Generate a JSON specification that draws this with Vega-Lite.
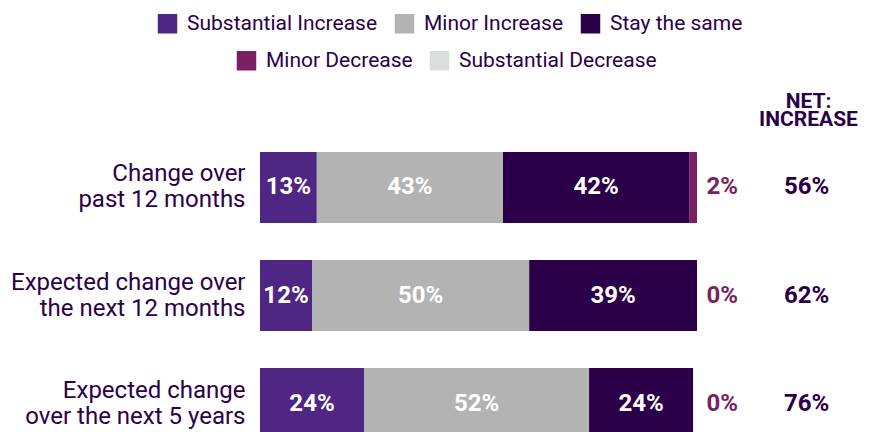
{
  "$schema": "https://vega.github.io/schema/vega-lite/v6.json",
  "autosize": "none",
  "width": 616,
  "height": 287,
  "padding": {"left": 260, "top": 152, "right": 0, "bottom": -7},
  "background": "white",
  "config": {
    "font": "Roboto",
    "view": {"stroke": null},
    "legend": {"padding": 0}
  },
  "data": {
    "values": [
      {"row": "Change over|past 12 months", "cat": "Substantial Increase", "value": 13.0, "label": "13%"},
      {"row": "Change over|past 12 months", "cat": "Minor Increase", "value": 42.6, "label": "43%"},
      {"row": "Change over|past 12 months", "cat": "Stay the same", "value": 42.6, "label": "42%"},
      {"row": "Change over|past 12 months", "cat": "Minor Decrease", "value": 1.8, "label": "2%"},
      {"row": "Change over|past 12 months", "cat": "Substantial Decrease", "value": 0, "label": "0%"},
      {"row": "Expected change over|the next 12 months", "cat": "Substantial Increase", "value": 11.9, "label": "12%"},
      {"row": "Expected change over|the next 12 months", "cat": "Minor Increase", "value": 49.7, "label": "50%"},
      {"row": "Expected change over|the next 12 months", "cat": "Stay the same", "value": 38.4, "label": "39%"},
      {"row": "Expected change over|the next 12 months", "cat": "Minor Decrease", "value": 0, "label": "0%"},
      {"row": "Expected change over|the next 12 months", "cat": "Substantial Decrease", "value": 0, "label": "0%"},
      {"row": "Expected change|over the next 5 years", "cat": "Substantial Increase", "value": 23.8, "label": "24%"},
      {"row": "Expected change|over the next 5 years", "cat": "Minor Increase", "value": 51.5, "label": "52%"},
      {"row": "Expected change|over the next 5 years", "cat": "Stay the same", "value": 23.8, "label": "24%"},
      {"row": "Expected change|over the next 5 years", "cat": "Minor Decrease", "value": 0, "label": "0%"},
      {"row": "Expected change|over the next 5 years", "cat": "Substantial Decrease", "value": 0, "label": "0%"}
    ]
  },
  "datasets": {
    "net": [
      {"row": "Change over|past 12 months", "net": "56%"},
      {"row": "Expected change over|the next 12 months", "net": "62%"},
      {"row": "Expected change|over the next 5 years", "net": "76%"}
    ]
  },
  "transform": [
    {"stack": "value", "groupby": ["row"], "as": ["x0", "x1"]},
    {"calculate": "(datum.x0 + datum.x1) / 2", "as": "mid"}
  ],
  "encoding": {
    "y": {
      "field": "row",
      "type": "nominal",
      "scale": {
        "domain": ["Change over|past 12 months", "Expected change over|the next 12 months", "Expected change|over the next 5 years"],
        "paddingInner": 0.3426,
        "paddingOuter": 0
      },
      "axis": {
        "title": null,
        "domain": false,
        "ticks": false,
        "labelExpr": "split(datum.value, '|')",
        "labelFontSize": 24,
        "labelLineHeight": 26,
        "labelColor": "#2B0049",
        "labelPadding": 15,
        "labelOffset": -13,
        "labelLimit": 400
      }
    }
  },
  "layer": [
    {
      "transform": [{"filter": "indexof(['Substantial Increase','Minor Increase','Stay the same'], datum.cat) >= 0"}],
      "mark": {"type": "bar"},
      "encoding": {
        "x": {
          "field": "x0", "type": "quantitative",
          "scale": {"domain": [0, 140.96], "nice": false, "zero": true},
          "axis": {
            "orient": "top",
            "labels": false, "ticks": false, "domain": false, "grid": false,
            "title": ["NET:", "INCREASE"],
            "titleX": 548, "titleY": -45,
            "titleAlign": "center", "titleBaseline": "alphabetic", "titleAngle": 0,
            "titleFontSize": 21, "titleFontWeight": "bold", "titleColor": "#2B0049", "titleLineHeight": 18
          }
        },
        "x2": {"field": "x1"},
        "color": {
          "field": "cat", "type": "nominal",
          "scale": {"domain": ["Substantial Increase", "Minor Increase", "Stay the same"], "range": ["#4F2683", "#B3B3B3", "#2B0049"]},
          "legend": {
            "title": null, "orient": "none", "direction": "horizontal",
            "legendX": -103, "legendY": -139,
            "symbolType": "square", "symbolSize": 380, "symbolStrokeWidth": 0, "symbolOpacity": 1,
            "labelFontSize": 21, "labelColor": "#2B0049", "labelOffset": 9, "columnPadding": 16, "labelLimit": 400
          }
        }
      }
    },
    {
      "transform": [{"filter": "indexof(['Minor Decrease','Substantial Decrease'], datum.cat) >= 0"}],
      "mark": {"type": "bar"},
      "encoding": {
        "x": {"field": "x0", "type": "quantitative"},
        "x2": {"field": "x1"},
        "fill": {
          "field": "cat", "type": "nominal",
          "scale": {"domain": ["Minor Decrease", "Substantial Decrease"], "range": ["#7A1F63", "#DCDDDD"]},
          "legend": {
            "title": null, "orient": "none", "direction": "horizontal",
            "legendX": -24, "legendY": -102,
            "symbolType": "square", "symbolSize": 380, "symbolStrokeWidth": 0, "symbolOpacity": 1,
            "labelFontSize": 21, "labelColor": "#2B0049", "labelOffset": 9, "columnPadding": 16, "labelLimit": 400
          }
        }
      }
    },
    {
      "transform": [{"filter": "indexof(['Substantial Increase','Minor Increase','Stay the same'], datum.cat) >= 0"}],
      "mark": {"type": "text", "color": "white", "fontSize": 24, "fontWeight": "bold", "align": "center", "baseline": "middle"},
      "encoding": {
        "x": {"field": "mid", "type": "quantitative"},
        "text": {"field": "label"}
      }
    },
    {
      "transform": [{"filter": "datum.cat === 'Minor Decrease'"}],
      "mark": {"type": "text", "color": "#7A1F63", "fontSize": 24, "fontWeight": "bold", "align": "center", "baseline": "middle"},
      "encoding": {
        "x": {"datum": 105.8, "type": "quantitative"},
        "text": {"field": "label"}
      }
    },
    {
      "data": {"name": "net"},
      "mark": {"type": "text", "color": "#2B0049", "fontSize": 24, "fontWeight": "bold", "align": "center", "baseline": "middle"},
      "encoding": {
        "x": {"datum": 125.1, "type": "quantitative"},
        "text": {"field": "net"}
      }
    }
  ]
}
